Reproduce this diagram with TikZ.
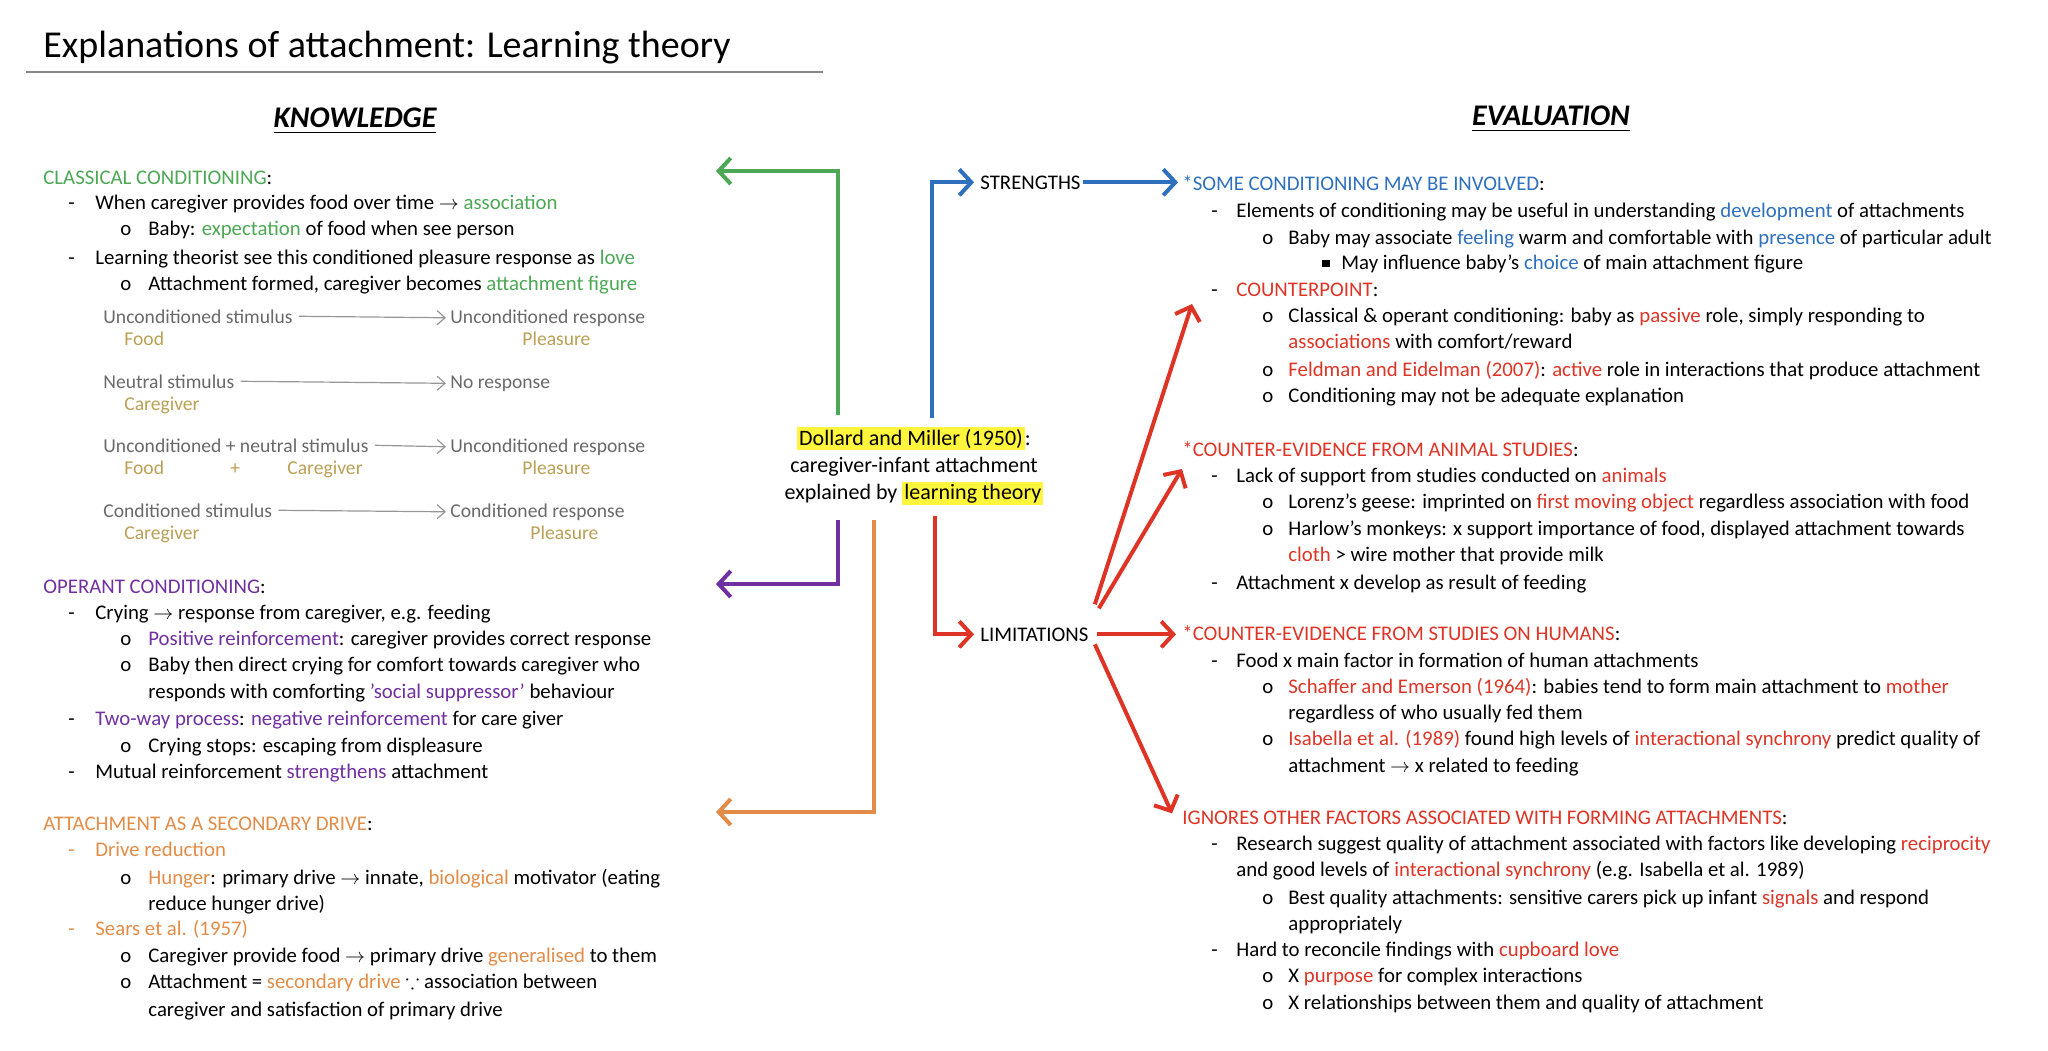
\documentclass[tikz,border=0pt]{standalone}
\usepackage{fontspec}
\usepackage{amssymb}
\setmainfont{Carlito}
\usetikzlibrary{arrows.meta,calc}
\definecolor{kgreen}{RGB}{76,168,84}
\definecolor{kblue}{RGB}{46,112,190}
\definecolor{kpurple}{RGB}{112,48,160}
\definecolor{korange}{RGB}{226,140,72}
\definecolor{kred}{RGB}{222,52,38}
\definecolor{kkhaki}{RGB}{186,160,86}
\definecolor{kgray}{RGB}{105,105,105}
\definecolor{khl}{RGB}{255,245,60}
\newcommand\kg[1]{\textcolor{kgreen}{#1}}
\newcommand\kb[1]{\textcolor{kblue}{#1}}
\newcommand\kp[1]{\textcolor{kpurple}{#1}}
\newcommand\ko[1]{\textcolor{korange}{#1}}
\newcommand\kr[1]{\textcolor{kred}{#1}}
\newcommand\hl[1]{{\setlength{\fboxsep}{1pt}\colorbox{khl}{#1}}}
\newcommand\ar{\ensuremath{\rightarrow}}
\newcommand\sqb{\rule[0.2ex]{0.35em}{0.35em}}
\tikzset{
  txt/.style={anchor=base west,inner sep=0pt,font=\fontsize{10.4}{12}\selectfont},
  hand/.style={anchor=base west,inner sep=0pt,font=\fontsize{9.8}{11}\selectfont,text=kgray},
  food/.style={hand,text=kkhaki},
  branch/.style={line width=2pt,-{Straight Barb[length=6pt,width=13pt,line width=2pt]}},
  thin/.style={kgray!70,line width=0.6pt,-{Straight Barb[length=4pt,width=7pt]}}
}
\begin{document}
\begin{tikzpicture}[x=0.5pt,y=-0.5pt]
\useasboundingbox (0,0) rectangle (2048,1050);
% title
\node[anchor=base west,inner sep=0pt,font=\fontsize{19}{20}\selectfont] (title) at (43,57) {Explanations of attachment: Learning theory};
\draw[kgray!80,line width=0.8pt] (26,72) -- (823,72);
\node[inner sep=0pt,font=\fontsize{15}{16}\selectfont\bfseries\itshape] (know) at (355,121) {\underline{KNOWLEDGE}};
\node[inner sep=0pt,font=\fontsize{15}{16}\selectfont\bfseries\itshape] (eval) at (1551,119) {\underline{EVALUATION}};

% classical conditioning
\node[txt] (cc) at (43,184) {\kg{CLASSICAL CONDITIONING}:};
\node[txt] at (68,209) {-};  \node[txt] at (95,209) {When caregiver provides food over time \ar{} \kg{association}};
\node[txt] at (120,235) {o}; \node[txt] at (148,235) {Baby: \kg{expectation} of food when see person};
\node[txt] at (68,264) {-};  \node[txt] at (95,264) {Learning theorist see this conditioned pleasure response as \kg{love}};
\node[txt] at (120,290) {o}; \node[txt] at (148,290) {Attachment formed, caregiver becomes \kg{attachment figure}};

% conditioning scheme
\node[hand] (us) at (103,323) {Unconditioned stimulus};
\node[hand] (ur) at (450,323) {Unconditioned response};
\node[food] at (124,345) {Food};
\node[food] at (522,345) {Pleasure};
\node[hand] (ns) at (103,388) {Neutral stimulus};
\node[hand] (nr) at (450,388) {No response};
\node[food] at (124,410) {Caregiver};
\node[hand] (un) at (103,452) {Unconditioned + neutral stimulus};
\node[hand] (ur2) at (450,452) {Unconditioned response};
\node[food] at (124,474) {Food};
\node[food] at (230,474) {+};
\node[food] at (287,474) {Caregiver};
\node[food] at (522,474) {Pleasure};
\node[hand] (cs) at (103,517) {Conditioned stimulus};
\node[hand] (cr) at (450,517) {Conditioned response};
\node[food] at (124,539) {Caregiver};
\node[food] at (530,539) {Pleasure};
\draw[thin] ($(us.east)+(6,0)$) -- ($(ur.west)+(-4,0)$);
\draw[thin] ($(ns.east)+(6,0)$) -- ($(nr.west)+(-4,0)$);
\draw[thin] ($(un.east)+(6,0)$) -- ($(ur2.west)+(-4,0)$);
\draw[thin] ($(cs.east)+(6,0)$) -- ($(cr.west)+(-4,0)$);

% operant conditioning
\node[txt] (oc) at (43,593) {\kp{OPERANT CONDITIONING}:};
\node[txt] at (68,619) {-};  \node[txt] at (95,619) {Crying \ar{} response from caregiver, e.g. feeding};
\node[txt] at (120,645) {o}; \node[txt] at (148,645) {\kp{Positive reinforcement}: caregiver provides correct response};
\node[txt] at (120,671) {o}; \node[txt] at (148,671) {Baby then direct crying for comfort towards caregiver who};
\node[txt] at (148,698) {responds with comforting \kp{'social suppressor'} behaviour};
\node[txt] at (68,725) {-};  \node[txt] at (95,725) {\kp{Two-way process}: \kp{negative reinforcement} for care giver};
\node[txt] at (120,752) {o}; \node[txt] at (148,752) {Crying stops: escaping from displeasure};
\node[txt] at (68,778) {-};  \node[txt] at (95,778) {Mutual reinforcement \kp{strengthens} attachment};

% secondary drive
\node[txt] (sd) at (43,830) {\ko{ATTACHMENT AS A SECONDARY DRIVE}:};
\node[txt] at (68,856) {\ko{-}};  \node[txt] at (95,856) {\ko{Drive reduction}};
\node[txt] at (120,884) {o}; \node[txt] at (148,884) {\ko{Hunger}: primary drive \ar{} innate, \ko{biological} motivator (eating};
\node[txt] at (148,910) {reduce hunger drive)};
\node[txt] at (68,935) {\ko{-}};  \node[txt] at (95,935) {\ko{Sears et al. (1957)}};
\node[txt] at (120,962) {o}; \node[txt] at (148,962) {Caregiver provide food \ar{} primary drive \ko{generalised} to them};
\node[txt] at (120,988) {o}; \node[txt] at (148,988) {Attachment = \ko{secondary drive} $\because$ association between};
\node[txt] at (148,1016) {caregiver and satisfaction of primary drive};

% centre
\node[inner sep=0pt,align=center,font=\fontsize{11}{13.5}\selectfont] (ctr) at (914,466)
  {\hl{Dollard and Miller (1950)}:\\caregiver-infant attachment\\explained by \hl{learning theory}};
\node[txt] (str) at (980,189) {STRENGTHS};
\node[txt] (lim) at (980,641) {LIMITATIONS};

% right column
\node[txt] (some) at (1182,190) {\kb{*SOME CONDITIONING MAY BE INVOLVED}:};
\node[txt] at (1211,217) {-};  \node[txt] at (1236,217) {Elements of conditioning may be useful in understanding \kb{development} of attachments};
\node[txt] at (1262,244) {o}; \node[txt] at (1288,244) {Baby may associate \kb{feeling} warm and comfortable with \kb{presence} of particular adult};
\node[txt] at (1322,269) {\sqb}; \node[txt] at (1341,269) {May influence baby's \kb{choice} of main attachment figure};
\node[txt] at (1211,296) {-};  \node[txt] (cp) at (1236,296) {\kr{COUNTERPOINT}:};
\node[txt] at (1262,322) {o}; \node[txt] at (1288,322) {Classical \& operant conditioning: baby as \kr{passive} role, simply responding to};
\node[txt] at (1288,348) {\kr{associations} with comfort/reward};
\node[txt] at (1262,376) {o}; \node[txt] at (1288,376) {\kr{Feldman and Eidelman (2007)}: \kr{active} role in interactions that produce attachment};
\node[txt] at (1262,402) {o}; \node[txt] at (1288,402) {Conditioning may not be adequate explanation};

\node[txt] (ani) at (1182,456) {\kr{*COUNTER-EVIDENCE FROM ANIMAL STUDIES}:};
\node[txt] at (1211,482) {-};  \node[txt] at (1236,482) {Lack of support from studies conducted on \kr{animals}};
\node[txt] at (1262,508) {o}; \node[txt] at (1288,508) {Lorenz's geese: imprinted on \kr{first moving object} regardless association with food};
\node[txt] at (1262,535) {o}; \node[txt] at (1288,535) {Harlow's monkeys: x support importance of food, displayed attachment towards};
\node[txt] at (1288,561) {\kr{cloth} > wire mother that provide milk};
\node[txt] at (1211,589) {-};  \node[txt] at (1236,589) {Attachment x develop as result of feeding};

\node[txt] (hum) at (1182,640) {\kr{*COUNTER-EVIDENCE FROM STUDIES ON HUMANS}:};
\node[txt] at (1211,667) {-};  \node[txt] at (1236,667) {Food x main factor in formation of human attachments};
\node[txt] at (1262,693) {o}; \node[txt] at (1288,693) {\kr{Schaffer and Emerson (1964)}: babies tend to form main attachment to \kr{mother}};
\node[txt] at (1288,719) {regardless of who usually fed them};
\node[txt] at (1262,745) {o}; \node[txt] at (1288,745) {\kr{Isabella et al. (1989)} found high levels of \kr{interactional synchrony} predict quality of};
\node[txt] at (1288,772) {attachment \ar{} x related to feeding};

\node[txt] (ign) at (1182,824) {\kr{IGNORES OTHER FACTORS ASSOCIATED WITH FORMING ATTACHMENTS}:};
\node[txt] at (1211,850) {-};  \node[txt] at (1236,850) {Research suggest quality of attachment associated with factors like developing \kr{reciprocity}};
\node[txt] at (1236,876) {and good levels of \kr{interactional synchrony} (e.g. Isabella et al. 1989)};
\node[txt] at (1262,904) {o}; \node[txt] at (1288,904) {Best quality attachments: sensitive carers pick up infant \kr{signals} and respond};
\node[txt] at (1288,930) {appropriately};
\node[txt] at (1211,956) {-};  \node[txt] at (1236,956) {Hard to reconcile findings with \kr{cupboard love}};
\node[txt] at (1262,982) {o}; \node[txt] at (1288,982) {X \kr{purpose} for complex interactions};
\node[txt] at (1262,1009) {o}; \node[txt] at (1288,1009) {X relationships between them and quality of attachment};

% branches
\coordinate (gEnd) at (716,171);
\coordinate (pEnd) at (716,584);
\coordinate (oEnd) at (716,812);
\coordinate (cpEnd) at (1192,304);
\coordinate (aniEnd) at (1182,469);
\draw[branch,kgreen] (838,415) |- (gEnd);
\draw[branch,kpurple] (838,520) |- (pEnd);
\draw[branch,korange] (874,520) |- (oEnd);
\draw[branch,kblue] (932,418) |- ($(str.west)+(-6,0)$);
\draw[branch,kred] (935,516) |- ($(lim.west)+(-6,0)$);
\draw[branch,kblue] ($(str.east)+(2,0)$) -- ($(str.east -| some.west)+(-4,0)$);
\draw[branch,kred] ($(lim.east)+(8,0)$) -- ($(lim.east -| hum.west)+(-6,0)$);
\draw[branch,kred] ($(lim.east)+(6,-30)$) -- (cpEnd);
\draw[branch,kred] ($(lim.east)+(10,-26)$) -- (aniEnd);
\draw[branch,kred] ($(lim.east)+(6,10)$) -- ($(ign.west)+(-10,-4)$);
\end{tikzpicture}
\end{document}
